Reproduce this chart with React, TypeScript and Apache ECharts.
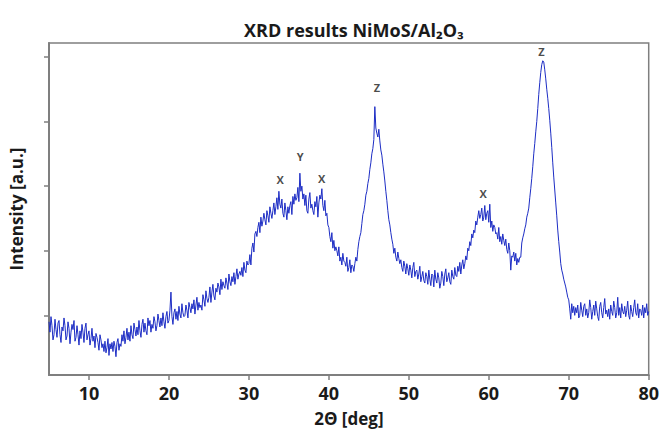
import React, { useEffect, useRef } from "react";
import * as echarts from "echarts";

// 2θ measurement grid (degrees)
const angleStart = 5;
const angleStep = 0.125;

// Intensity readings (a.u.), 8 per degree from 5° to 80°
const intensity: number[] = [
  90, 74, 98, 84, 62, 70, 94, 78, // 5
  66, 88, 92, 70, 58, 82, 76, 96, // 6
  84, 62, 68, 90, 80, 56, 74, 86, // 7
  78, 92, 60, 66, 84, 70, 54, 76, // 8
  64, 86, 74, 58, 80, 88, 62, 70, // 9
  76, 54, 64, 80, 60, 68, 50, 72, // 10
  66, 58, 46, 70, 62, 50, 56, 44, // 11
  60, 42, 50, 64, 38, 56, 48, 58, // 12
  44, 60, 52, 36, 58, 64, 46, 56, // 13
  52, 70, 60, 76, 56, 66, 80, 62, // 14
  74, 60, 84, 70, 64, 88, 78, 68, // 15
  82, 70, 92, 76, 66, 86, 94, 74, // 16
  88, 76, 70, 96, 84, 92, 74, 86, // 17
  80, 98, 90, 76, 84, 102, 92, 82, // 18
  96, 84, 104, 90, 80, 98, 106, 88, // 19
  92, 108, 136, 98, 86, 104, 110, 94, // 20
  106, 92, 114, 102, 96, 118, 104, 98, // 21
  100, 116, 108, 96, 120, 112, 104, 118, // 22
  110, 124, 102, 116, 128, 108, 120, 112, // 23
  116, 108, 132, 124, 114, 138, 126, 120, // 24
  128, 144, 120, 136, 148, 130, 124, 142, // 25
  136, 150, 144, 132, 156, 140, 152, 146, // 26
  142, 158, 150, 140, 164, 152, 146, 160, // 27
  152, 166, 148, 160, 172, 156, 164, 168, // 28
  162, 174, 160, 182, 170, 166, 184, 178, // 29
  180, 194, 178, 204, 212, 198, 226, 230, // 30
  222, 236, 244, 228, 252, 238, 246, 258, // 31
  248, 240, 262, 254, 244, 268, 258, 250, // 32
  262, 274, 256, 268, 282, 264, 292, 272, // 33
  266, 280, 258, 252, 274, 262, 248, 268, // 34
  258, 270, 276, 256, 284, 272, 288, 278, // 35
  282, 298, 276, 320, 292, 300, 280, 288, // 36
  270, 286, 262, 258, 280, 290, 266, 272, // 37
  262, 256, 276, 268, 284, 252, 274, 286, // 38
  280, 296, 270, 262, 278, 254, 258, 240, // 39
  236, 222, 214, 228, 204, 216, 200, 206, // 40
  200, 192, 206, 184, 190, 178, 196, 184, // 41
  182, 176, 190, 168, 174, 186, 166, 178, // 42
  176, 168, 180, 190, 184, 202, 214, 222, // 43
  228, 242, 256, 262, 272, 286, 292, 304, // 44
  312, 326, 336, 350, 358, 372, 423, 390, // 45
  382, 376, 388, 370, 356, 348, 334, 322, // 46
  308, 292, 278, 262, 248, 240, 228, 218, // 47
  210, 196, 204, 190, 184, 198, 188, 180, // 48
  186, 174, 168, 184, 176, 164, 180, 172, // 49
  162, 178, 170, 158, 174, 182, 160, 168, // 50
  170, 156, 164, 176, 152, 160, 168, 154, // 51
  150, 166, 160, 148, 170, 156, 146, 164, // 52
  162, 144, 170, 156, 150, 166, 158, 142, // 53
  150, 168, 160, 146, 164, 172, 152, 158, // 54
  166, 152, 148, 170, 160, 156, 174, 162, // 55
  160, 176, 168, 182, 164, 178, 186, 172, // 56
  180, 192, 186, 204, 200, 214, 208, 226, // 57
  220, 232, 228, 246, 240, 252, 262, 250, // 58
  256, 266, 246, 252, 270, 248, 258, 262, // 59
  244, 272, 236, 246, 230, 240, 236, 226, // 60
  228, 218, 236, 214, 222, 210, 226, 216, // 61
  208, 218, 202, 196, 212, 200, 170, 192, // 62
  190, 198, 184, 196, 178, 188, 182, 190, // 63
  190, 212, 220, 226, 234, 240, 252, 258, // 64
  266, 282, 296, 312, 330, 350, 366, 384, // 65
  400, 420, 442, 460, 476, 488, 494, 492, // 66
  480, 466, 450, 436, 420, 402, 382, 360, // 67
  336, 314, 294, 274, 254, 232, 214, 198, // 68
  180, 170, 164, 156, 150, 144, 136, 128, // 69
  124, 110, 94, 118, 104, 114, 100, 112, // 70
  104, 116, 96, 100, 120, 108, 98, 114, // 71
  118, 100, 110, 96, 104, 124, 112, 94, // 72
  106, 116, 100, 122, 110, 98, 92, 114, // 73
  120, 104, 96, 112, 126, 102, 108, 98, // 74
  110, 94, 116, 106, 100, 122, 112, 96, // 75
  104, 128, 100, 112, 96, 118, 106, 102, // 76
  114, 98, 108, 122, 100, 94, 116, 106, // 77
  98, 112, 124, 104, 100, 118, 96, 110, // 78
  108, 100, 116, 96, 112, 104, 118, 100, // 79
  106, // 80
];

// Phase labels above the peaks
const peakNames = ["X", "Y", "X", "Z", "X", "Z"];
const peakAngles = [33.9, 36.4, 39.1, 46.0, 59.3, 66.6];
const peakLabelLevels = [311, 346, 312, 452, 288, 509];

const xTicks = [10, 20, 30, 40, 50, 60, 70, 80];
const yTicks = [100, 200, 300, 400, 500];

const FONT = "'Open Sans', 'Noto Sans', sans-serif";

export default function App() {
  const ref = useRef<HTMLDivElement>(null);

  useEffect(() => {
    if (!ref.current) return;
    const chart = echarts.init(ref.current, null, { renderer: "svg" });
    const lineData = intensity.map((v, i) => [angleStart + i * angleStep, v]);
    const labelData = peakNames.map((n, i) => ({
      value: [peakAngles[i], peakLabelLevels[i]],
      name: n,
    }));
    const axisGray = "#7f7f7f";
    const textColor = "#1a1a1a";
    chart.setOption({
      animation: false,
      backgroundColor: "#ffffff",
      title: {
        text: "XRD results NiMoS/Al₂O₃",
        left: 349,
        top: 16,
        textAlign: "center",
        textStyle: {
          fontFamily: FONT,
          fontSize: 18,
          fontWeight: "bold",
          color: textColor,
        },
      },
      grid: {
        left: 49,
        right: 11,
        top: 43,
        bottom: 55,
        show: true,
        borderColor: axisGray,
        borderWidth: 1.5,
      },
      xAxis: {
        type: "value",
        min: 5,
        max: 80,
        name: "2Θ [deg]",
        nameLocation: "middle",
        nameGap: 35,
        nameTextStyle: {
          fontFamily: FONT,
          fontSize: 17,
          fontWeight: "bold",
          color: textColor,
        },
        axisLine: { show: true, lineStyle: { color: axisGray, width: 2 } },
        axisTick: {
          show: true,
          customValues: xTicks,
          length: 5,
          lineStyle: { color: axisGray, width: 1.5 },
        },
        axisLabel: {
          customValues: xTicks,
          fontFamily: FONT,
          fontSize: 18,
          fontWeight: "bold",
          color: textColor,
          margin: 9,
        },
        splitLine: { show: false },
      },
      yAxis: {
        type: "value",
        min: 7.7,
        max: 521.5,
        name: "Intensity [a.u.]",
        nameLocation: "middle",
        nameGap: 24,
        nameTextStyle: {
          fontFamily: FONT,
          fontSize: 17,
          fontWeight: "bold",
          color: textColor,
        },
        axisLine: { show: true, lineStyle: { color: axisGray, width: 2 } },
        axisTick: {
          show: true,
          customValues: yTicks,
          length: 5,
          lineStyle: { color: axisGray, width: 1.5 },
        },
        axisLabel: { show: false },
        splitLine: { show: false },
      },
      series: [
        {
          type: "line",
          data: lineData,
          showSymbol: false,
          symbol: "none",
          lineStyle: { color: "#1d2dc4", width: 1 },
          silent: true,
        },
        {
          type: "scatter",
          data: labelData,
          symbolSize: 0,
          silent: true,
          label: {
            show: true,
            position: "inside",
            formatter: (p: any) => p.name,
            fontFamily: FONT,
            fontSize: 11,
            fontWeight: "bold",
            color: textColor,
          },
        },
      ],
    });
    return () => chart.dispose();
  }, []);

  return (
    <div
      ref={ref}
      style={{ position: "fixed", left: 0, top: 0, width: 662, height: 432 }}
    />
  );
}
